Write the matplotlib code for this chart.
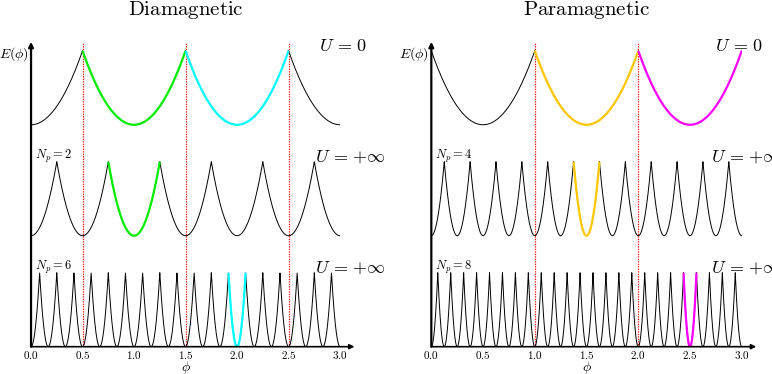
import numpy as np
import matplotlib
matplotlib.use("Agg")
import matplotlib.pyplot as plt
from matplotlib.ticker import FuncFormatter

plt.rcParams["mathtext.fontset"] = "cm"
plt.rcParams["font.family"] = ["DejaVu Serif"]

# panel setup
titles = ["Diamagnetic", "Paramagnetic"]
row_offsets = [3.0, 1.5, 0.0]          # vertical shift of each row
dia_periods = [1.0, 0.5, 1.0 / 6]
para_periods = [1.0, 0.25, 0.125]
dia_shifts = [0.0, 0.0, 0.0]             # position of first minimum
para_shifts = [0.5, 0.0, 0.0]
np_labels_dia = [None, "$N_p = 2$", "$N_p = 6$"]
np_labels_para = [None, "$N_p = 4$", "$N_p = 8$"]
u_labels = ["$U\\,=\\,0$", "$U\\,=\\,{+}\\infty$", "$U\\,=\\,{+}\\infty$"]
dia_ulabel_x = [2.80, 2.76, 2.76]
para_ulabel_x = [2.74, 2.70, 2.70]
dia_lines = [0.5, 1.5, 2.5]
para_lines = [1.0, 2.0]
# highlighted branches: (row, minimum position, color)
dia_highlight = [(0, 1.0, "#00ee00"), (0, 2.0, "#00ffff"),
                 (1, 1.0, "#00ee00"), (2, 2.0, "#00ffff")]
para_highlight = [(0, 1.5, "#ffc800"), (0, 2.5, "#ff00ff"),
                  (1, 1.5, "#ffc800"), (2, 2.5, "#ff00ff")]
xticks = [0.0, 0.5, 1.0, 1.5, 2.0, 2.5, 3.0]


def energy(phi, period, shift):
    k = np.round((phi - shift) / period)
    d = phi - shift - k * period
    return (d / (period / 2)) ** 2


def draw_panel(ax, title, periods, shifts, np_labels, vlines, highlight, ulx):
    phi = np.linspace(0, 3, 6001)
    for off, p, s in zip(row_offsets, periods, shifts):
        ax.plot(phi, energy(phi, p, s) + off, color="black", lw=0.7)
    for row, m, c in highlight:
        p = periods[row]
        seg = np.linspace(m - p / 2, min(m + p / 2, 3.0), 300)
        ax.plot(seg, ((seg - m) / (p / 2)) ** 2 + row_offsets[row],
                color=c, lw=1.6, solid_capstyle="butt")
    for x in vlines:
        ax.plot([x, x], [0, 4.1], color="red", lw=0.9, ls=(0, (1, 1)), zorder=0)

    ax.set_xlim(0, 3)
    ax.set_ylim(0, 4.11)
    for sp in ["top", "right", "left", "bottom"]:
        ax.spines[sp].set_visible(False)
    ax.set_yticks([])
    ax.set_xticks(xticks)
    ax.xaxis.set_major_formatter(FuncFormatter(lambda v, pos: f"${v:.1f}$"))
    ax.tick_params(axis="x", length=0, pad=2, labelsize=8)
    ax.annotate("", xy=(3.14, 0), xytext=(0, 0), annotation_clip=False,
                arrowprops=dict(arrowstyle="-|>", color="black", lw=1.2,
                                mutation_scale=7, shrinkA=0, shrinkB=0))
    ax.annotate("", xy=(0, 4.12), xytext=(0, 0), annotation_clip=False,
                arrowprops=dict(arrowstyle="-|>", color="black", lw=1.6,
                                mutation_scale=7, shrinkA=0, shrinkB=0))
    ax.set_xlabel("$\\phi$", fontsize=10, labelpad=-1)
    ax.text(-0.02, 3.95, "$E(\\phi)$", ha="right", va="center", fontsize=10)
    for lab, off in zip(np_labels, row_offsets):
        if lab:
            ax.text(0.04, off + 1.07, lab, ha="left", va="center", fontsize=9)
    for lab, off, x in zip(u_labels, row_offsets, ulx):
        ax.text(x, off + 1.07, lab, ha="left", va="center", fontsize=13,
                clip_on=False)
    ax.text(1.5, 4.55, "$\\mathrm{" + title + "}$", ha="center", va="center",
            fontsize=15)


fig = plt.figure(figsize=(7.72, 3.74), dpi=100)
ax1 = fig.add_axes([0.0402, 0.073, 0.4003, 0.813])
ax2 = fig.add_axes([0.5587, 0.073, 0.4021, 0.813])
draw_panel(ax1, titles[0], dia_periods, dia_shifts, np_labels_dia,
           dia_lines, dia_highlight, dia_ulabel_x)
draw_panel(ax2, titles[1], para_periods, para_shifts, np_labels_para,
           para_lines, para_highlight, para_ulabel_x)
fig.savefig("out.png", dpi=100)
